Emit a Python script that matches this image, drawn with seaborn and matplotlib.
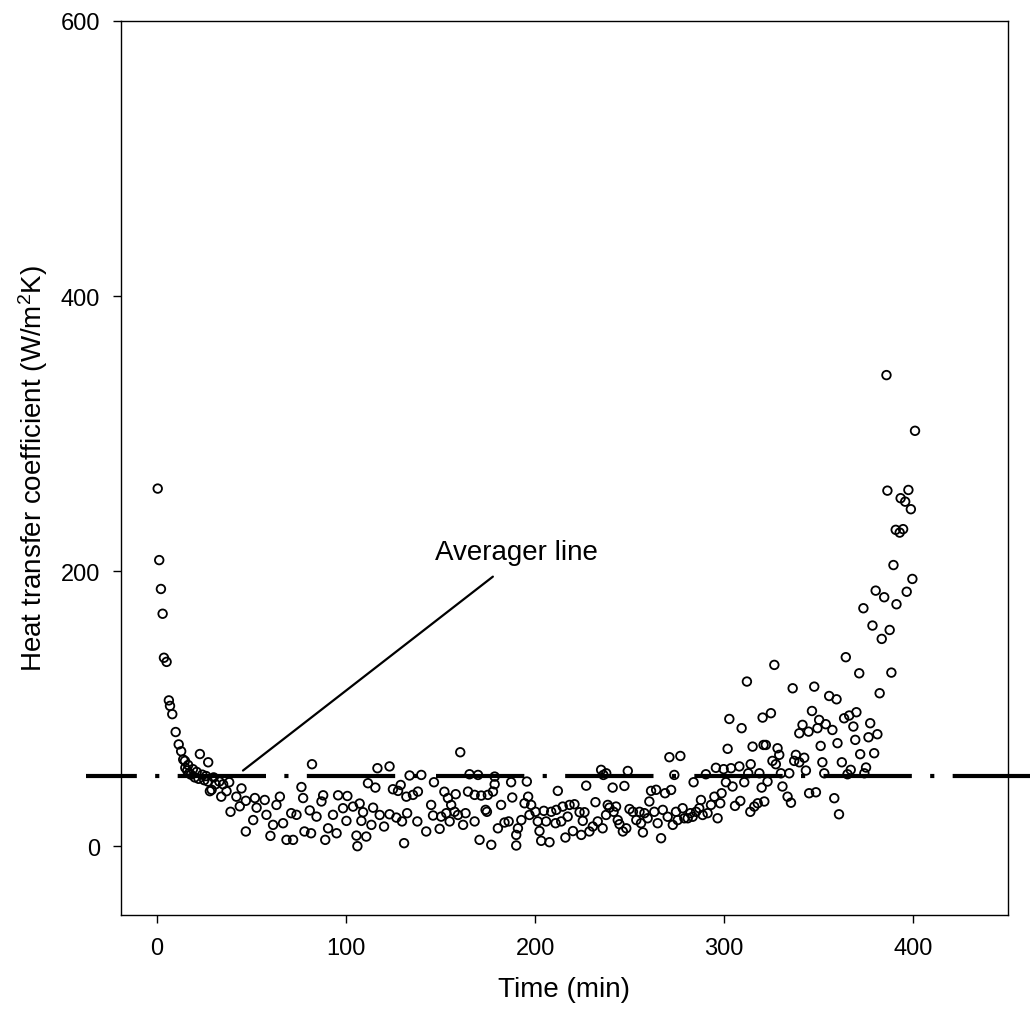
import matplotlib
matplotlib.use("Agg")
import matplotlib.pyplot as plt
import seaborn as sns
import pandas as pd

# Data (time in min, h in W/m2K)
spike_t = [0.4, 1.2, 2.1, 3.0, 3.7, 5.1, 6.3, 6.9, 8.1, 9.9, 11.5, 12.8, 13.9, 14.8, 16.5]
spike_h = [260, 208, 187, 169, 137, 134, 106, 102, 96, 83, 74, 69, 63, 62, 59]

early_t = [15, 16, 17, 18, 19, 20, 21, 22, 24, 25, 26, 27, 30, 31, 33, 35, 22.7, 27.1,
           28.9, 28, 34, 36.8, 38.2, 42, 44.7, 43.8, 38.9, 47, 51.8, 52.7, 57, 50.9, 57.9,
           61.4, 47, 60, 65, 63.2, 66.7, 68.5, 72, 71, 73.8]
early_h = [57, 55, 53, 52, 56, 50, 54, 49, 52, 48, 51, 47, 50, 45, 47, 45, 67, 61,
           41, 40, 36, 40, 46.5, 36, 42, 29, 25, 33, 35, 28, 33.6, 19, 22.8,
           15.5, 10.7, 7.5, 36, 30, 16.7, 4.6, 4.6, 24, 22.8]

mid1_t = [82, 76.4, 77.3, 87.9, 87, 95.8, 100.7, 80.8, 84.4, 78, 81.5, 89, 90.5, 95, 93.1,
          98.4, 100.2, 103.7, 107.2, 109, 108.1, 105.5, 106, 110.7, 113.4, 114.3, 111.6,
          115.5, 116.6, 123, 117.8, 120.1, 123, 124.8, 127.5, 128.9, 126.6, 129.6, 132.3,
          130.7, 131.9, 135.4, 133.6, 138, 139.8, 137.7, 142.4, 145, 146, 146.5, 150.3,
          149.5, 152, 153.9, 155.6, 153, 154.8]
mid1_h = [59.6, 43, 35, 37, 32.5, 37, 36.5, 26, 21.5, 10.7, 9.4, 4.6, 13, 9.4, 22.8,
          27.6, 18.4, 28.8, 31, 24.7, 18.4, 7.7, 0, 7, 15.5, 28, 45.8,
          42.6, 56.7, 58, 22.7, 14.3, 23.2, 41.4, 40.2, 44.5, 20.8, 18, 24,
          2.2, 36, 37.3, 51.4, 39.7, 51.8, 18, 10.7, 30, 22.3, 46.5, 21.5,
          12.6, 39.6, 35, 30, 24, 18]

mid2_t = [160.4, 158, 157.4, 159.2, 161.9, 163.2, 164.5, 168, 171.5, 175, 177.7, 178.6,
          178.6, 169.8, 165.3, 168, 170.6, 173.8, 174.5, 176.8, 180.3, 182, 183.8, 186,
          187.3, 187.9, 190, 190, 190.9, 192.7, 194.4, 195.6, 196.3, 197, 197.9, 200.2,
          201.4, 202.3, 203.2, 204.6, 207.6, 205.8, 208.5, 210.8, 212, 211.2, 213.8, 214.6,
          216, 217.2, 218.2, 220, 220.8, 223.5, 224.4, 225.2, 226.1, 227, 228.7, 230.5,
          231.9, 233.1, 234.9, 236.1, 235.7, 237.5, 238.4]
mid2_h = [68.3, 37.8, 25, 22.7, 15.5, 24, 39.7, 37.3, 36.8, 37.3, 39.7, 45,
          50.6, 51.8, 52.3, 18, 4.6, 26.4, 25, 1, 13, 30, 17.2, 18,
          46.5, 35.4, 0.5, 8.2, 13, 19, 31.2, 47, 36, 22.7, 30, 25,
          18, 11, 3.9, 25.7, 2.9, 18, 25, 16.7, 40.2, 26.4, 18, 28.8,
          6.3, 21.5, 30, 11, 30.5, 24.7, 8.2, 18.4, 24.7, 44, 10.7, 14.3,
          32, 18, 55.5, 51.8, 13, 22.7, 30]

late_t = [237.6, 249, 241, 247.2, 239.3, 241.5, 242.8, 243.7, 244.6, 246.4, 248.2, 249.9,
          251.7, 253.5, 255.2, 256, 257, 257.8, 259.5, 260.4, 261.3, 263, 264, 264.8,
          266.6, 267.5, 268.7, 270.1, 271, 271.9, 272.8, 273.6, 274.5, 275.4, 276.8, 278,
          278.9, 280.7, 282.1, 283.8, 283.3, 285.1, 286.8, 287.7, 288.6, 290.3, 291.2, 293,
          294.8, 295.6, 296.5, 297.9, 298.6, 299.7, 300.9, 301.8, 302.7, 303.6, 304.4,
          305.7, 308, 308.5, 309.2, 310.6, 312, 312.7, 314, 315, 313.8, 315.9, 317.7,
          318.6, 319.8, 320.3, 320.8]
late_h = [53, 54.7, 42.6, 43.8, 28, 25, 28.8, 19, 16, 10.7, 13, 27,
          25, 19, 25, 16.7, 10, 24, 20.3, 32.5, 40.2, 25, 41, 16.7,
          5.8, 26.4, 38.5, 21.4, 64.7, 40.9, 15.5, 51.8, 25, 19, 65.6, 27.6,
          20.3, 20.3, 24, 46.5, 21.4, 25, 27.6, 33.6, 22.7, 52.3, 24, 30,
          36, 57, 20.3, 31.2, 38.5, 56, 46.5, 70.8, 92.5, 56.7, 43.4,
          29.3, 58, 32.9, 85.8, 46.5, 119.7, 53, 59.6, 72.4, 25, 28.8, 31.2,
          53, 42.6, 93.5, 73.6]

rise_t = [378.4, 387.5, 383.3, 364.3, 371.4, 388.4, 326.5, 336.2, 347.6, 355.5, 359.4,
          382.2, 346.4, 324.7, 341.4, 339.7, 344.6, 350.2, 349.3, 353.7, 357.2, 363.4,
          366.1, 369.9, 368.3, 377.2, 376.3, 381, 369.3, 359.9, 351, 322, 328.2, 329.1,
          325.5, 327.3, 337.9, 339.7, 342.3, 337, 351.9, 362.2, 371.9, 379.3, 343.2,
          366.9, 375, 374.1, 352.9, 365.2, 330, 334.4, 330.8, 321.2, 333.5, 335.3, 344.9,
          348.5, 358.2, 360.7, 322.9,
          385.8, 400.9, 386.3, 397.4, 393.3, 395.7, 398.7, 390.7, 392.8, 394.6, 389.5,
          399.5, 380.1, 384.6, 396.5, 391.1, 373.6]
rise_h = [160.4, 157.2, 150.7, 137.4, 125.7, 126.2, 131.8, 114.8, 116, 109.2, 106.8,
          111.2, 98.3, 96.7, 88.2, 82.1, 83.3, 91.8, 85.8, 88.7, 84.5, 93,
          95, 97.4, 87, 89.4, 79.2, 81.4, 77.3, 74.9, 72.9, 73.6, 71.2, 66.4,
          62, 59.6, 66.4, 61, 64.3, 62, 61, 61, 66.9, 67.6, 55,
          55.5, 57.2, 53, 53, 52.3, 53, 53, 43.4, 32.5, 36, 31.6, 38.5,
          39.2, 34.9, 23.2, 47,
          342.5, 302, 258.5, 259, 253, 250.5, 245, 230, 228, 230.5, 204.4,
          194.3, 185.8, 181, 185, 175.9, 173]

avg_level = 51
x_ticks = [0, 100, 200, 300, 400]
y_ticks = [0, 200, 400, 600]

df = pd.DataFrame({
    "time": spike_t + early_t + mid1_t + mid2_t + late_t + rise_t,
    "h": spike_h + early_h + mid1_h + mid2_h + late_h + rise_h,
})

sns.set_style("ticks")
plt.rcParams["font.family"] = ["Liberation Sans", "DejaVu Sans"]
plt.rcParams["mathtext.default"] = "regular"
plt.rcParams["text.color"] = "black"
plt.rcParams["axes.labelcolor"] = "black"

fig = plt.figure(figsize=(10.3, 10.2), dpi=100)
ax = fig.add_axes([0.1175, 0.102, 0.861, 0.8765])

sns.scatterplot(data=df, x="time", y="h", ax=ax, marker="o", s=38,
                facecolors="none", edgecolor="black", linewidth=1.3, zorder=3)

# averager line, runs past both spines as in the original
ax.plot([-0.04, 1.05], [avg_level, avg_level], transform=ax.get_yaxis_transform(),
        color="black", lw=3, clip_on=False, solid_capstyle="butt",
        linestyle=(9, (21.2, 4.4, 1.0, 4.4)), zorder=2)

ax.annotate("Averager line", xy=(45.5, 55), xytext=(190, 214),
            ha="center", va="center", fontsize=20, color="black",
            arrowprops=dict(arrowstyle="-", lw=1.6, color="black",
                            relpos=(0.45, 0), shrinkA=10, shrinkB=0))

ax.set_xlim(-19, 450)
ax.set_ylim(-50, 600)
ax.set_xticks(x_ticks)
ax.set_yticks(y_ticks)
ax.tick_params(direction="out", length=6, width=1, labelsize=17,
               colors="black", labelcolor="black")
ax.tick_params(axis="x", pad=10)
ax.tick_params(axis="y", pad=9)
for sp in ax.spines.values():
    sp.set_visible(True)
    sp.set_linewidth(1)
    sp.set_color("black")

ax.set_xlabel("Time (min)", fontsize=20, color="black")
ax.set_ylabel("Heat transfer coefficient (W/m$^2$K)", fontsize=20, color="black")
ax.xaxis.set_label_coords(0.5, -0.068)
ax.yaxis.set_label_coords(-0.08, 0.5)

fig.savefig("out.png", dpi=100)
